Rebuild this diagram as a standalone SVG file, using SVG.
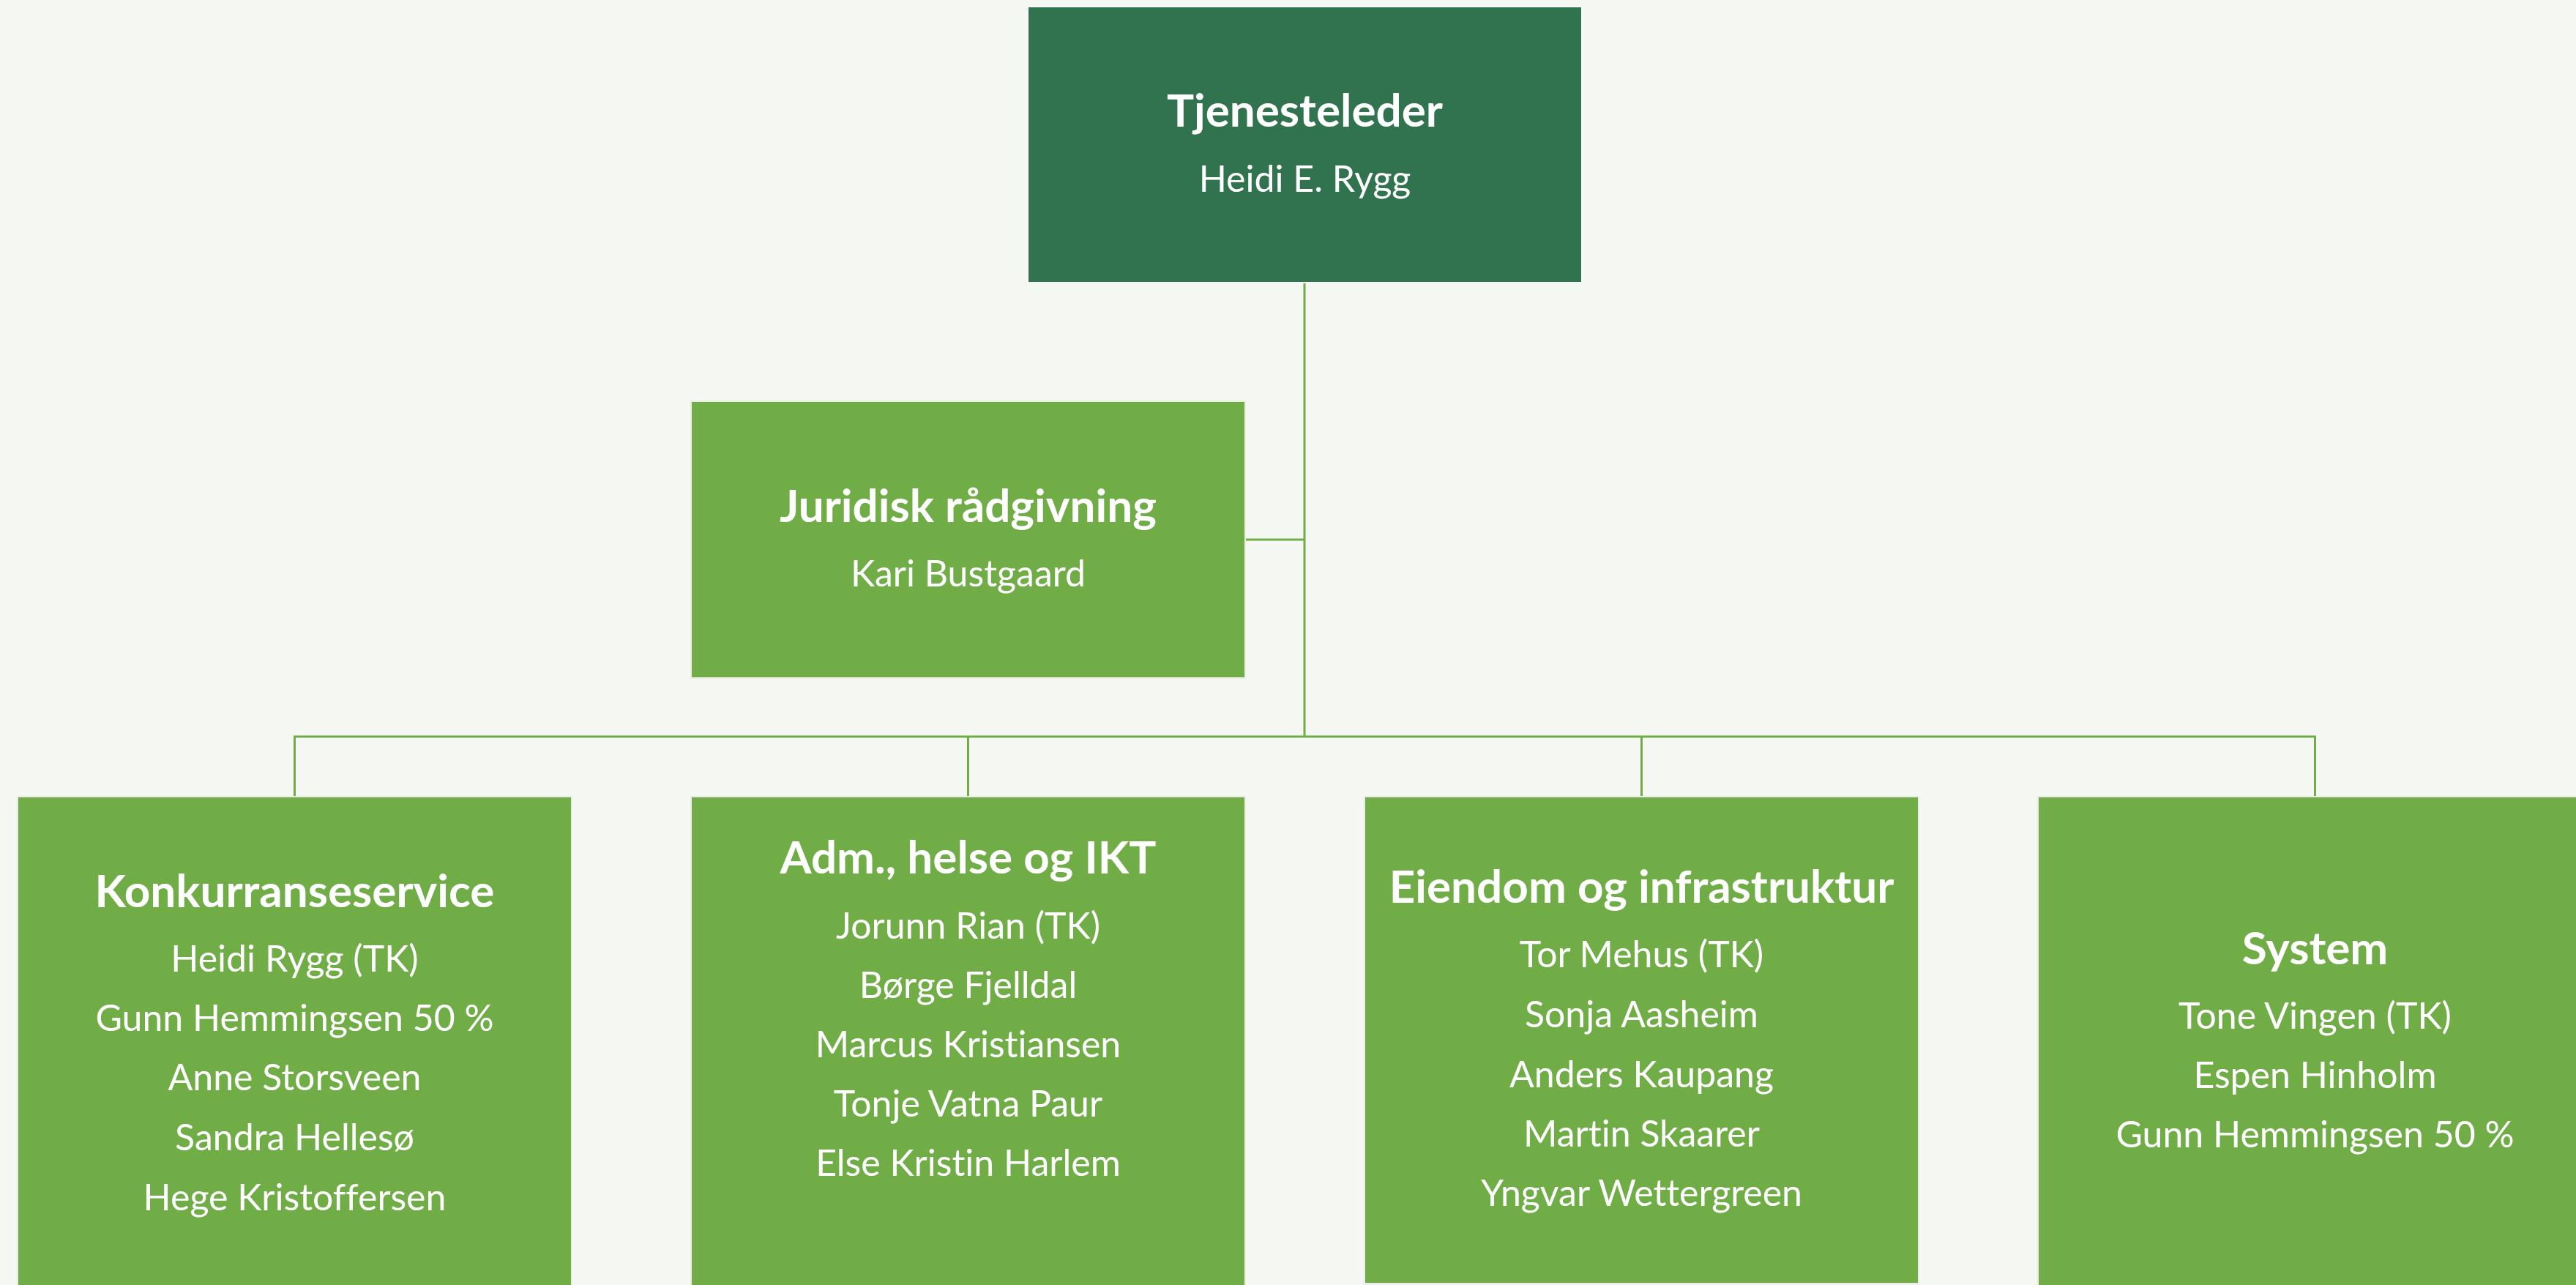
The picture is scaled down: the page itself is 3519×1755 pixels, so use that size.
<svg xmlns="http://www.w3.org/2000/svg" width="3519" height="1755" viewBox="0 0 3519 1755">
<style>
.bg{fill:#F5F7F3}
.box{fill:#70AD47;stroke:#E9EDE6;stroke-width:2}
.top{fill:#31734F;stroke:#F8FAF7;stroke-width:2}
.conn{stroke:#70AD47;stroke-width:3;fill:none}
text{font-family:"Lato","Liberation Sans",sans-serif;fill:#FFFFFF;text-anchor:middle;font-variant-ligatures:none}
.t{font-size:62px;font-weight:bold}
.n{font-size:50px}
</style>
<rect class="bg" x="0" y="0" width="3519" height="1755"/>
<g id="connectors">
<line class="conn" x1="1782" y1="386" x2="1782" y2="1006"/>
<line class="conn" x1="1701" y1="737" x2="1782" y2="737"/>
<polyline class="conn" points="402.5,1087 402.5,1006 3162.5,1006 3162.5,1087"/>
<line class="conn" x1="1322.5" y1="1006" x2="1322.5" y2="1087"/>
<line class="conn" x1="2242.5" y1="1006" x2="2242.5" y2="1087"/>
</g>
<g id="tjenesteleder">
<rect class="top" x="1404" y="9" width="757" height="377"/>
<text class="t" x="1782.5" y="173">Tjenesteleder</text>
<text class="n" x="1782.5" y="262">Heidi E. Rygg</text>
</g>
<g id="juridisk">
<rect class="box" x="944" y="548" width="757" height="378"/>
<text class="t" x="1322.5" y="713">Juridisk rådgivning</text>
<text class="n" x="1322.5" y="801">Kari Bustgaard</text>
</g>
<g id="konkurranseservice">
<rect class="box" x="24" y="1088" width="757" height="680"/>
<text class="t" x="402.5" y="1239">Konkurranseservice</text>
<text class="n" x="402.5" y="1327">Heidi Rygg (TK)</text>
<text class="n" x="402.5" y="1408">Gunn Hemmingsen 50 %</text>
<text class="n" x="402.5" y="1489">Anne Storsveen</text>
<text class="n" x="402.5" y="1571">Sandra Hellesø</text>
<text class="n" x="402.5" y="1653">Hege Kristoffersen</text>
</g>
<g id="adm">
<rect class="box" x="944" y="1088" width="757" height="680"/>
<text class="t" x="1322.5" y="1193">Adm., helse og IKT</text>
<text class="n" x="1322.5" y="1282">Jorunn Rian (TK)</text>
<text class="n" x="1322.5" y="1363">Børge Fjelldal</text>
<text class="n" x="1322.5" y="1444">Marcus Kristiansen</text>
<text class="n" x="1322.5" y="1525">Tonje Vatna Paur</text>
<text class="n" x="1322.5" y="1606">Else Kristin Harlem</text>
</g>
<g id="eiendom">
<rect class="box" x="1864" y="1088" width="757" height="665"/>
<text class="t" x="2242.5" y="1233">Eiendom og infrastruktur</text>
<text class="n" x="2242.5" y="1321">Tor Mehus (TK)</text>
<text class="n" x="2242.5" y="1403">Sonja Aasheim</text>
<text class="n" x="2242.5" y="1485">Anders Kaupang</text>
<text class="n" x="2242.5" y="1566">Martin Skaarer</text>
<text class="n" x="2242.5" y="1647">Yngvar Wettergreen</text>
</g>
<g id="system">
<rect class="box" x="2784" y="1088" width="757" height="680"/>
<text class="t" x="3162.5" y="1317">System</text>
<text class="n" x="3162.5" y="1405">Tone Vingen (TK)</text>
<text class="n" x="3162.5" y="1486">Espen Hinholm</text>
<text class="n" x="3162.5" y="1567">Gunn Hemmingsen 50 %</text>
</g>
</svg>
